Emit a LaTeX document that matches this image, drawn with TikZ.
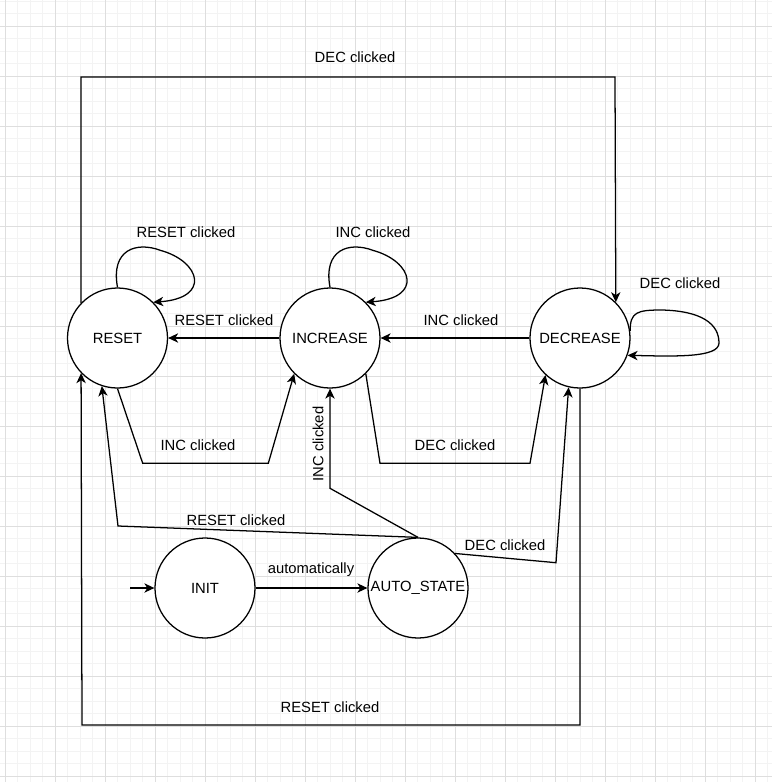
\documentclass[tikz,border=0pt]{standalone}
\usepackage{fontspec}
\setmainfont{Liberation Sans}
\usetikzlibrary{arrows.meta}
\definecolor{gridmajor}{HTML}{DEDEDE}
\definecolor{gridminor}{HTML}{F3F3F3}
\begin{document}
\begin{tikzpicture}[x=0.75pt,y=-0.75pt,
  txt/.style={font=\fontsize{11.1}{13}\selectfont},
  state/.style={circle,draw,line width=0.95pt,minimum size=75pt,inner sep=0pt,fill=white,txt},
  lbl/.style={txt,inner sep=0pt},
  arr/.style={line width=0.95pt,line join=miter,-{Stealth[length=7.5pt,width=7pt,inset=2.2pt]}},
  minorline/.style={gridminor,line width=0.7pt},
  majorline/.style={gridmajor,line width=0.75pt}]
\useasboundingbox (0,0) rectangle (772,782);
\fill[white] (0,0) rectangle (772,782);
% grid
\foreach \i in {0,...,61} \draw[minorline] ({5+12.5*\i},0) -- ({5+12.5*\i},782);
\foreach \i in {0,...,62} \draw[minorline] (0,{1+12.5*\i}) -- (772,{1+12.5*\i});
\foreach \i in {0,...,15} \draw[majorline] ({5+50*\i},0) -- ({5+50*\i},782);
\foreach \i in {0,...,15} \draw[majorline] (0,{26+50*\i}) -- (772,{26+50*\i});

% states
\node[state] (RESET) at (117.5,338) {RESET};
\node[state] (INCREASE) at (330,338) {INCREASE};
\node[state] (DECREASE) at (580,338) {DECREASE};
\node[state] (INIT) at (205,588) {INIT};
\node[state] (AUTO) at (418,588) {AUTO\_STATE};

% helper coordinates
\coordinate (start) at (130,588);
\coordinate (top) at (615,77);
\coordinate (bot) at (82,725);
\coordinate (ri1) at (142.7,463.3);
\coordinate (ri2) at (268.3,463.3);
\coordinate (id1) at (380,463.3);
\coordinate (id2) at (530,463.3);
\coordinate (ai) at (330,488.3);
\coordinate (ar) at (118,526);
\coordinate (ad) at (556,562.7);

% straight transitions
\draw[arr] (start) -- (INIT);
\draw[arr] (INIT) -- (AUTO);
\draw[arr] (INCREASE) -- (RESET);
\draw[arr] (DECREASE) -- (INCREASE);

% routed transitions
\draw[arr] (RESET.136) |- (top) -- (DECREASE.45.6);
\draw[arr] (DECREASE.south) |- (bot) -- (RESET.224.8);
\draw[arr] (RESET.south) -- (ri1) -- (ri2) -- (INCREASE.225.4);
\draw[arr] (INCREASE.315) -- (id1) -- (id2) -- (DECREASE.227);
\draw[arr] (AUTO.north) -- (ai) -- (INCREASE.south);
\draw[arr] (AUTO.north) -- (ar) -- (RESET.252.6);
\draw[arr] (AUTO.43) -- (ad) -- (DECREASE.257);

% self loops
\draw[arr] (RESET.90) .. controls +(-7,-38) and +(-24,-9) .. ++(43,-37)
  .. controls +(40,11) and +(58,-4) .. (RESET.45);
\draw[arr] (INCREASE.90) .. controls +(-7,-38) and +(-24,-9) .. ++(43,-37)
  .. controls +(40,11) and +(58,-4) .. (INCREASE.45);
\draw[arr] (DECREASE.8) .. controls +(0,-19) and +(-25,0) .. (662,310)
  .. controls +(40,1) and +(0,-19) .. (719,343)
  .. controls +(0,15) and +(46,1) .. (DECREASE.340);

% labels
\node[lbl] (l1) at (355,57) {DEC clicked};
\node[lbl] (l2) at (186,232) {RESET clicked};
\node[lbl] (l3) at (373,232) {INC clicked};
\node[lbl] (l4) at (680,283) {DEC clicked};
\node[lbl] (l5) at (224,320) {RESET clicked};
\node[lbl] (l6) at (461,320) {INC clicked};
\node[lbl] (l7) at (198,445) {INC clicked};
\node[lbl] (l8) at (455,445) {DEC clicked};
\node[lbl,rotate=90] (l9) at (318,444) {INC clicked};
\node[lbl] (l10) at (236,520) {RESET clicked};
\node[lbl] (l11) at (505,545) {DEC clicked};
\node[lbl] (l12) at (311,570) {automatically};
\node[lbl] (l13) at (330,707) {RESET clicked};
\end{tikzpicture}
\end{document}
